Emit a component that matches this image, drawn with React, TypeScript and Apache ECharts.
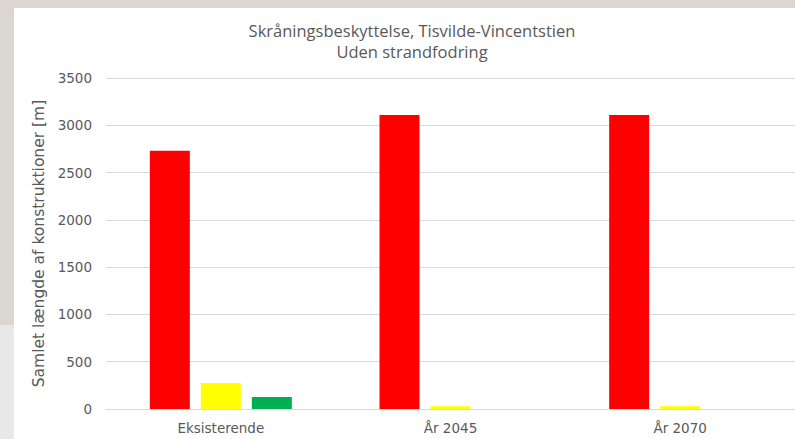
import React, { useEffect, useRef } from "react";
import * as echarts from "echarts";

const categories = ["Eksisterende", "År 2045", "År 2070"];
const redValues = [2730, 3110, 3110];
const yellowValues = [275, 30, 30];
const greenValues = [127, 0, 0];
const seriesNames = ["Rød", "Gul", "Grøn"];

export default function App() {
  const ref = useRef<HTMLDivElement>(null);
  useEffect(() => {
    if (!ref.current) return;
    const chart = echarts.init(ref.current, null, { renderer: "svg" });
    const textColor = "#595959";
    chart.setOption({
      animation: false,
      backgroundColor: "#dcd6d1",
      graphic: [
        { type: "rect", z: -10, shape: { x: 0, y: 325, width: 14, height: 114 }, style: { fill: "#e8e8e8" } },
        { type: "rect", z: -10, shape: { x: 14, y: 8, width: 781, height: 431 }, style: { fill: "#ffffff" } },
      ],
      title: {
        text: "Skråningsbeskyttelse, Tisvilde-Vincentstien",
        subtext: "Uden strandfodring",
        left: 407,
        top: 16,
        textAlign: "center",
        itemGap: 3,
        textStyle: {
          fontFamily: "Open Sans",
          fontSize: 16.5,
          fontWeight: "normal",
          color: textColor,
          lineHeight: 18,
        },
        subtextStyle: {
          fontFamily: "Open Sans",
          fontSize: 16.5,
          color: textColor,
          lineHeight: 18,
        },
      },
      grid: { left: 106, right: -4, top: 78, bottom: 30, containLabel: false },
      xAxis: {
        type: "category",
        data: categories,
        axisLine: { show: true, lineStyle: { color: "#d9d9d9", width: 1 } },
        axisTick: { show: false },
        axisLabel: { color: textColor, fontFamily: "DejaVu Sans", fontSize: 13.5, margin: 12 },
      },
      yAxis: {
        type: "value",
        min: 0,
        max: 3500,
        interval: 500,
        name: "Samlet længde af konstruktioner [m]",
        nameLocation: "middle",
        nameGap: 51,
        nameTextStyle: { color: textColor, fontFamily: "DejaVu Sans", fontSize: 15.5 },
        axisLine: { show: false },
        axisTick: { show: false },
        axisLabel: {
          color: textColor,
          fontFamily: "DejaVu Sans",
          fontSize: 13.5,
          margin: 14,
          formatter: (v: number) => String(v),
        },
        splitLine: { lineStyle: { color: "#d9d9d9", width: 1 } },
      },
      series: [
        { name: seriesNames[0], type: "bar", data: redValues, barWidth: 40, barGap: "27.5%", itemStyle: { color: "#ff0000" } },
        { name: seriesNames[1], type: "bar", data: yellowValues, barWidth: 40, barGap: "27.5%", itemStyle: { color: "#ffff00" } },
        { name: seriesNames[2], type: "bar", data: greenValues, barWidth: 40, barGap: "27.5%", itemStyle: { color: "#00b050" } },
      ],
    });
    return () => chart.dispose();
  }, []);
  return (
    <div style={{ position: "fixed", left: 0, top: 0, width: 795, height: 439 }}>
      <div ref={ref} style={{ width: 795, height: 439 }} />
    </div>
  );
}
